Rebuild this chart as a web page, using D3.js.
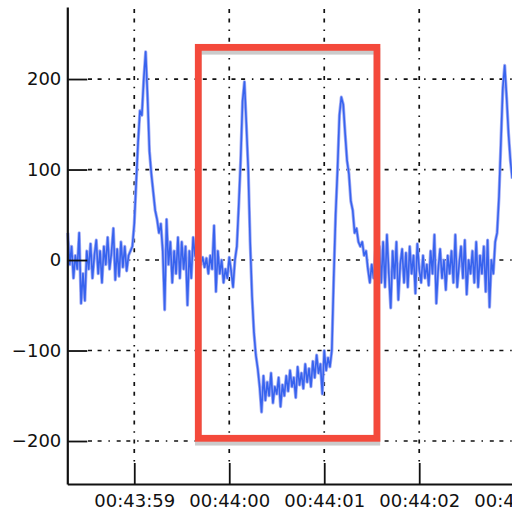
<!DOCTYPE html>
<head lang="en">
<meta charset="utf-8">
<title>Signal trace with highlighted window</title>
<style>
body { margin:0; background:#fff; }
* { font-family:"DejaVu Sans","sans-serif"; }
</style>
<script src="https://cdn.jsdelivr.net/npm/d3@7"></script>
</head>
<body>
<div id="chart"></div>
<script>
// time in seconds after 00:43:00, one sample every 0.02 s
var sampleStart = 58.30,
    sampleStep = 0.02;

// signal pieces
var baseA  = [30, -5, 15, -20, 5, -10, 30, -48, -15, -45, 10, -10, 18, -20, 5, 22, -15, 10, -25, 15,
              -5, 25, -10, 8, 35, -22, 12, -18, 20, -8, 15, -12, 5, 10];
var spike1 = [15, 40, 85, 130, 165, 160, 200, 230, 180, 120, 95, 75, 55, 45, 30];
var baseB  = [40, 10, -55, 45, -5, 20, -25, 10, -15, 25, -20, 20, -10, 15, -50, 10, -20, 25, 5];
var baseC  = [0, 5, -5, 3, -8, 2, -15, 5, -10, 38, -35, 10, -15, 0, -25, -10, -20, 3, -12, -30, 0];
var spike2 = [15, 60, 110, 175, 197, 150, 100, 20, -40, -80, -105, -120];
var trough = [-140, -168, -128, -155, -135, -150, -125, -158, -140, -148,
              -130, -162, -138, -150, -128, -145, -122, -140, -130, -152,
              -118, -138, -125, -142, -115, -135, -120, -140, -112, -130,
              -105, -125, -115, -148, -100, -122, -108, -118];
var spike3 = [-100, -20, 50, 100, 160, 180, 172, 140, 110, 95, 65, 55, 30, 35, 20, 15, 20, 5, 10, -10, -25, -5];
var baseE  = [-20, 10, -35, 15, -25, 20, -30, 28, -15, -53, 10, -20, 20, -44, -5, 12, -25, 8, -30, 15,
              -15, 5, -37, 18, -10, -25, 5, -20, -5, -28, 10, -15, 28, -48, -10, 12, -20, 0, -33, 5,
              -15, 10, -25, 28, -30, -5, 15, -20, 22, -38, 0, -15, 10, -25, 20, -30, 5, -15, 15, -35,
              22, -52, 0, -15];
var spike4 = [20, 30, 70, 130, 190, 215, 180, 140, 110, 90];

var yTicks = [-200, -100, 0, 100, 200];
var xTicks = [59, 60, 61, 62, 63];
var xTickLabels = ["00:43:59", "00:44:00", "00:44:01", "00:44:02", "00:44:03"];

// highlighted window: [start, end] seconds, [top, bottom] value
var boxTime = [59.674, 61.555],
    boxValue = [235, -197];

var signal = [].concat(baseA, spike1, baseB, baseC, spike2, trough, spike3, baseE, spike4);

var width = 512,
    height = 515;

var x = d3.scaleLinear().domain([58.295, 63.3]).range([67.3, 542.7]);
var y = d3.scaleLinear().domain([-247.5, 279.6]).range([484, 7]);

var svg = d3.select("#chart").append("svg")
    .attr("width", width)
    .attr("height", height);

var gridDash = "4,5.6,4,6.8,1.5,6.8";

// grid
svg.append("g").selectAll("line")
    .data(yTicks)
    .enter()
    .append("line")
        .attr("x1", 88)
        .attr("x2", width)
        .attr("y1", function(d) { return y(d); })
        .attr("y2", function(d) { return y(d); })
        .style("stroke", "#111")
        .style("stroke-width", "1.7px")
        .style("stroke-dasharray", gridDash);

svg.append("g").selectAll("line")
    .data(xTicks)
    .enter()
    .append("line")
        .attr("x1", function(d) { return x(d); })
        .attr("x2", function(d) { return x(d); })
        .attr("y1", 9)
        .attr("y2", 463)
        .style("stroke", "#111")
        .style("stroke-width", "1.7px")
        .style("stroke-dasharray", gridDash);

// trace
var line = d3.line()
    .x(function(d, i) { return x(sampleStart + i * sampleStep); })
    .y(function(d) { return y(d); });

svg.append("path")
    .datum(signal)
    .attr("d", line)
    .style("fill", "none")
    .style("stroke", "#a3adf4")
    .style("stroke-width", "3.2px")
    .style("stroke-linejoin", "round");

svg.append("path")
    .datum(signal)
    .attr("d", line)
    .style("fill", "none")
    .style("stroke", "#3763ee")
    .style("stroke-width", "1.6px")
    .style("stroke-linejoin", "round");

// highlight box with its soft shadow
var bx = x(boxTime[0]), bw = x(boxTime[1]) - bx,
    by = y(boxValue[0]), bh = y(boxValue[1]) - by;

svg.append("rect")
    .attr("x", bx).attr("y", by + 4)
    .attr("width", bw).attr("height", bh)
    .style("fill", "none")
    .style("stroke", "#cbcbcb")
    .style("stroke-width", "6.5px");

svg.append("rect")
    .attr("x", bx).attr("y", by)
    .attr("width", bw).attr("height", bh)
    .style("fill", "none")
    .style("stroke", "#f4493b")
    .style("stroke-width", "6.8px");

// axes
var yAxis = d3.axisLeft(y)
    .tickValues(yTicks)
    .tickSize(-20)
    .tickSizeOuter(0)
    .tickPadding(6)
    .tickFormat(function(d) { return d < 0 ? "\u2212" + Math.abs(d) : d; });

var xAxis = d3.axisBottom(x)
    .tickValues(xTicks)
    .tickSize(-21)
    .tickSizeOuter(0)
    .tickPadding(10)
    .tickFormat(function(d, i) { return xTickLabels[i]; });

var gy = svg.append("g").attr("transform", "translate(67.3,0)").call(yAxis);
var gx = svg.append("g").attr("transform", "translate(0,484)").call(xAxis);

[gy, gx].forEach(function(g) {
    g.selectAll("text")
        .style("font-family", "DejaVu Sans")
        .style("font-size", "18px")
        .style("fill", "#111");
    g.selectAll("line").style("stroke", "#111").style("stroke-width", "1.8px");
    g.select(".domain").style("stroke", "#111").style("stroke-width", "2.2px");
});
gy.selectAll("text").attr("dy", "0.32em");
</script>
</body>
</html>
